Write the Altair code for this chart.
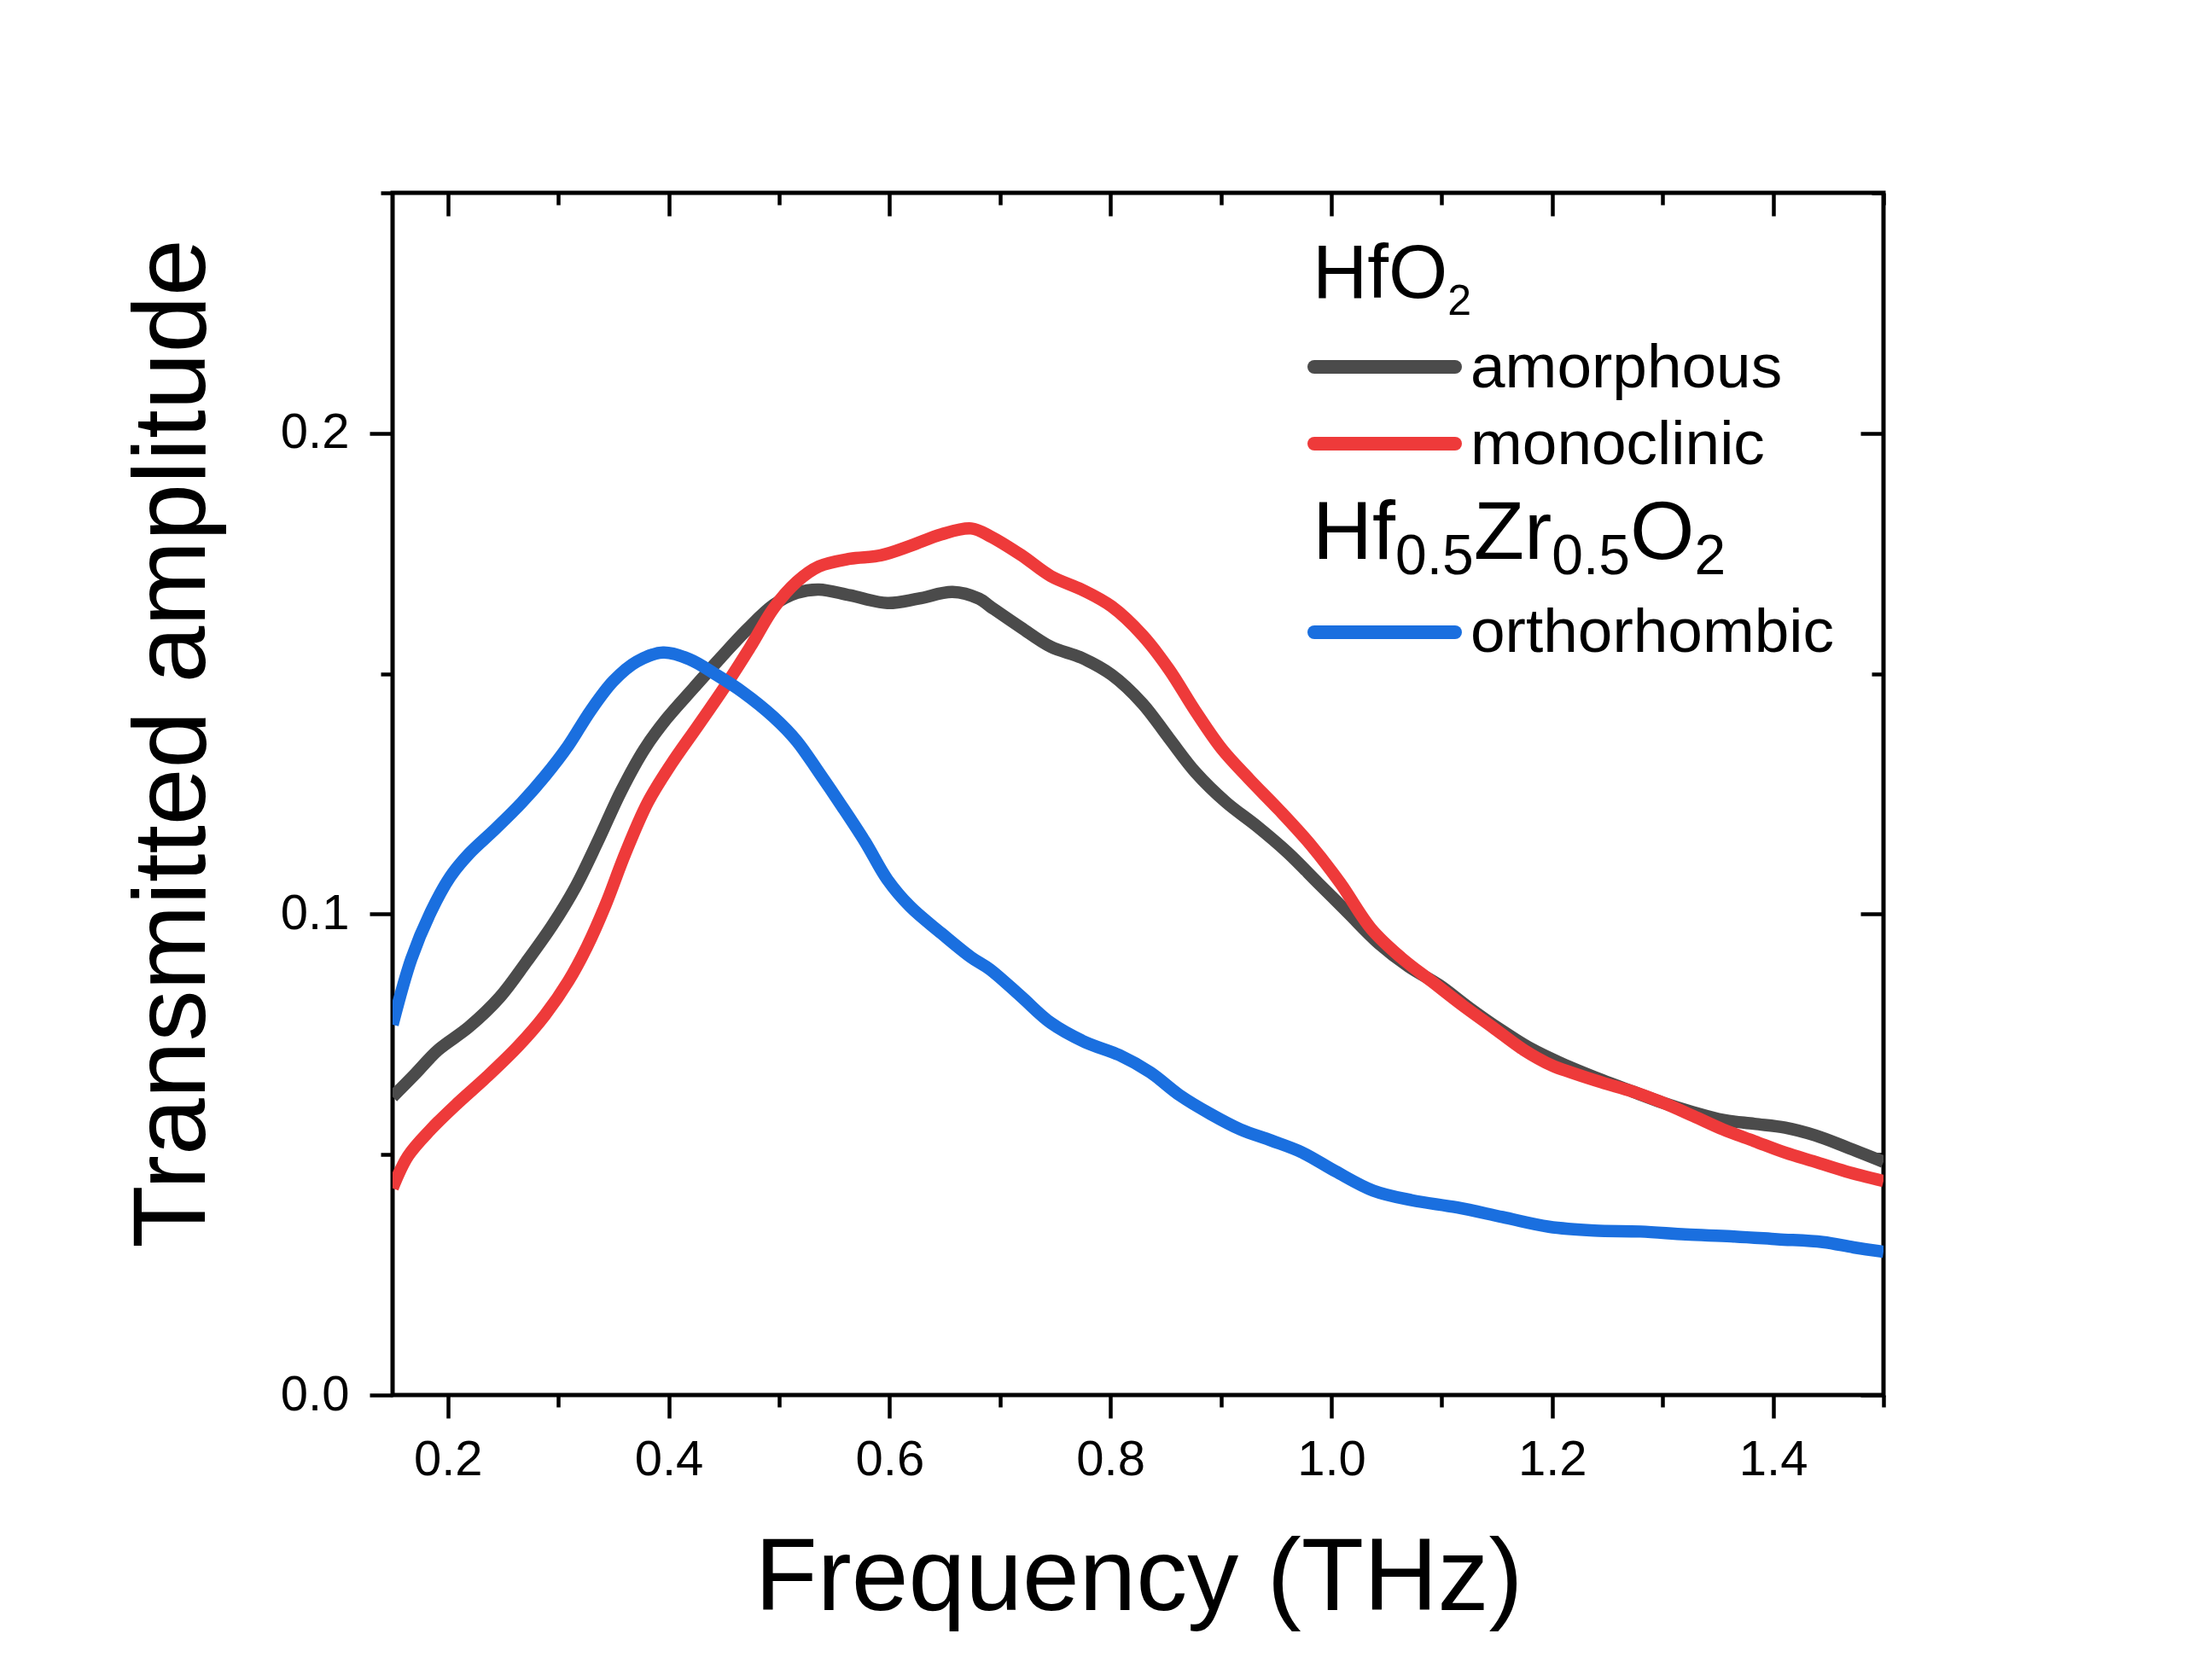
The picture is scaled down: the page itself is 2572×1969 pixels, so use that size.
import altair as alt
import pandas as pd

# ---------------- data ----------------
series_names = ["amorphous", "monoclinic", "orthorhombic"]
series_colors = ["#4b4b4b", "#ee3a3a", "#1a6fdf"]

amorphous_x = [0.150, 0.171, 0.191, 0.219, 0.247, 0.271, 0.295, 0.316, 0.336, 0.357,
               0.378, 0.398, 0.4225, 0.447, 0.471, 0.495, 0.516, 0.536, 0.564, 0.598,
               0.626, 0.657, 0.681, 0.691, 0.719, 0.746, 0.774, 0.801, 0.829, 0.853,
               0.877, 0.905, 0.932, 0.960, 0.988, 1.015, 1.043, 1.070, 1.098, 1.125,
               1.153, 1.181, 1.208, 1.245, 1.273, 1.300, 1.328, 1.355, 1.383, 1.411,
               1.438, 1.466, 1.500]
amorphous_y = [0.0620, 0.0669, 0.0717, 0.0765, 0.0827, 0.0900, 0.0978, 0.1058, 0.1152, 0.1256,
               0.1343, 0.1406, 0.1470, 0.1533, 0.1592, 0.1643, 0.1668, 0.1675, 0.1663, 0.1647,
               0.1656, 0.1670, 0.1656, 0.1640, 0.1596, 0.1556, 0.1533, 0.1498, 0.1438, 0.1366,
               0.1295, 0.1232, 0.1184, 0.1129, 0.1065, 0.1003, 0.0939, 0.0891, 0.0852, 0.0805,
               0.0760, 0.0720, 0.0690, 0.0655, 0.0631, 0.0608, 0.0588, 0.0572, 0.0564, 0.0556,
               0.0540, 0.0516, 0.0485]

monoclinic_x = [0.150, 0.164, 0.1845, 0.209, 0.236, 0.264, 0.288, 0.309, 0.326, 0.343,
                0.3605, 0.381, 0.402, 0.426, 0.450, 0.474, 0.495, 0.516, 0.536, 0.564,
                0.592, 0.619, 0.647, 0.674, 0.691, 0.719, 0.746, 0.774, 0.801, 0.829,
                0.853, 0.877, 0.901, 0.926, 0.953, 0.981, 1.008, 1.036, 1.063, 1.091,
                1.119, 1.146, 1.174, 1.200, 1.217, 1.245, 1.273, 1.300, 1.328, 1.355,
                1.383, 1.411, 1.438, 1.466, 1.500]
monoclinic_y = [0.0430, 0.0497, 0.0552, 0.0607, 0.0663, 0.0726, 0.0790, 0.0860, 0.0932, 0.1020,
                0.1125, 0.1232, 0.1311, 0.1390, 0.1470, 0.1556, 0.1636, 0.1691, 0.1723, 0.1739,
                0.1746, 0.1766, 0.1790, 0.1802, 0.1786, 0.1747, 0.1703, 0.1675, 0.1640, 0.1580,
                0.1509, 0.1422, 0.1343, 0.1280, 0.1216, 0.1145, 0.1065, 0.0970, 0.0910, 0.0860,
                0.0810, 0.0765, 0.0718, 0.0685, 0.0671, 0.0650, 0.0631, 0.0608, 0.0580, 0.0552,
                0.0528, 0.0504, 0.0485, 0.0465, 0.0445]

orthorhombic_x = [0.150, 0.167, 0.1845, 0.202, 0.219, 0.243, 0.267, 0.288, 0.309, 0.329,
                  0.350, 0.371, 0.395, 0.419, 0.443, 0.467, 0.495, 0.516, 0.536, 0.557,
                  0.578, 0.598, 0.619, 0.647, 0.674, 0.691, 0.719, 0.746, 0.777, 0.808,
                  0.836, 0.863, 0.891, 0.918, 0.946, 0.974, 1.004, 1.038, 1.073, 1.114,
                  1.155, 1.197, 1.238, 1.280, 1.321, 1.362, 1.404, 1.445, 1.473, 1.500]
orthorhombic_y = [0.0770, 0.0907, 0.1004, 0.1077, 0.1125, 0.1177, 0.1232, 0.1287, 0.1350, 0.1422,
                  0.1485, 0.1525, 0.1544, 0.1530, 0.1498, 0.1462, 0.1410, 0.1360, 0.1295, 0.1224,
                  0.1150, 0.1072, 0.1015, 0.0960, 0.0910, 0.0885, 0.0829, 0.0774, 0.0734, 0.0707,
                  0.0671, 0.0623, 0.0584, 0.0552, 0.0529, 0.0504, 0.0465, 0.0425, 0.0405, 0.0390,
                  0.0370, 0.0350, 0.0342, 0.0340, 0.0334, 0.0330, 0.0324, 0.0318, 0.0307, 0.0298]

x_tick_values = [0.2, 0.3, 0.4, 0.5, 0.6, 0.7, 0.8, 0.9, 1.0, 1.1, 1.2, 1.3, 1.4, 1.5]
y_tick_values = [0.0, 0.05, 0.1, 0.15, 0.2, 0.25]
x_domain = [0.15, 1.5]
y_domain = [0.0, 0.25]

x_title = "Frequency (THz)"
y_title = "Transmitted amplitude"

# legend headers: (text, is_subscript)
header_hfo2 = [("HfO", False), ("2", True)]
header_hzo = [("Hf", False), ("0.5", True), ("Zr", False), ("0.5", True), ("O", False), ("2", True)]

# ---------------- styling / layout ----------------
FONT = "Liberation Sans"
W, H = 1747, 1409
LINE_W = 14.5

x_scale = alt.Scale(domain=x_domain, nice=False, zero=False)
y_scale = alt.Scale(domain=y_domain, nice=False, zero=False)

major_x = "round(datum.value*10)%2==0"
major_y = "round(datum.value*20)%2==0"

common_axis = dict(grid=False, domain=False, tickColor="black", tickWidth=4.5,
                   labelFont=FONT, labelFontSize=58, labelColor="black",
                   titleFont=FONT, titleFontSize=120, titleFontWeight="normal",
                   titleColor="black", labelOverlap=False, labelFlush=False)

x_axis_bottom = alt.Axis(
    orient="bottom", values=x_tick_values,
    tickSize={"expr": f"{major_x} ? 27 : 14"},
    labelExpr=f"{major_x} ? format(datum.value, '.1f') : ''",
    labelPadding=20, labelBaseline="top",
    title=x_title, titleX=874, titleY=251, titleBaseline="alphabetic", titleAlign="center",
    **common_axis)
y_axis_left = alt.Axis(
    orient="left", values=y_tick_values,
    tickSize={"expr": f"{major_y} ? 27 : 14"},
    labelExpr=f"{major_y} ? format(datum.value, '.1f') : ''",
    labelPadding=24,
    title=y_title, titleX=-221, titleY=645, titleAngle=270,
    titleBaseline="alphabetic", titleAlign="center",
    **common_axis)
x_axis_top = alt.Axis(
    orient="top", values=x_tick_values, labels=False, title=None,
    tickSize={"expr": f"{major_x} ? -27 : -14"}, grid=False, domain=False,
    tickColor="black", tickWidth=4.5)
y_axis_right = alt.Axis(
    orient="right", values=y_tick_values, labels=False, title=None,
    tickSize={"expr": f"{major_y} ? -27 : -14"}, grid=False, domain=False,
    tickColor="black", tickWidth=4.5)

def series_df(xs, ys):
    return pd.DataFrame({"x": xs, "y": ys})

dfs = [series_df(amorphous_x, amorphous_y),
       series_df(monoclinic_x, monoclinic_y),
       series_df(orthorhombic_x, orthorhombic_y)]

layers = []
for i, (df, col) in enumerate(zip(dfs, series_colors)):
    layers.append(
        alt.Chart(df).mark_line(color=col, strokeWidth=LINE_W, interpolate="catmull-rom",
                                clip=True, strokeJoin="round").encode(
            x=alt.X("x:Q", scale=x_scale, axis=x_axis_bottom if i == 0 else None),
            y=alt.Y("y:Q", scale=y_scale, axis=y_axis_left if i == 0 else None),
        )
    )

# mirror axes (top / right, inward ticks)
layers.append(
    alt.Chart(dfs[0]).mark_line(opacity=0).encode(
        x=alt.X("x:Q", scale=x_scale, axis=x_axis_top),
        y=alt.Y("y:Q", scale=y_scale, axis=y_axis_right),
    )
)

# ---------------- legend ----------------
ADV = {"H": 0.722, "f": 0.278, "O": 0.778, "Z": 0.611, "r": 0.333,
       "0": 0.556, ".": 0.278, "5": 0.556, "2": 0.556}

def text_layer(s, x, y, size):
    return alt.Chart(alt.Data(values=[{"t": s}])).mark_text(
        align="left", baseline="alphabetic", font=FONT, fontSize=size, color="black"
    ).encode(x=alt.value(x), y=alt.value(y), text="t:N")

def header(parts, x0, base, main_size, sub_size, sub_drop):
    x = x0
    out = []
    for s, sub in parts:
        size = sub_size if sub else main_size
        out.append(text_layer(s, x, base + (sub_drop if sub else 0), size))
        x += sum(ADV[c] for c in s) * size
    return out

LEG_X0 = 1078
layers += header(header_hfo2, LEG_X0, 123, 89, 50, 20)
layers += header(header_hzo, LEG_X0, 429, 97, 66, 18)

legend_line_y = [204, 294, 515]
legend_text_y = [228, 318, 538]
for name, col, ly, ty in zip(series_names, series_colors, legend_line_y, legend_text_y):
    layers.append(
        alt.Chart(alt.Data(values=[{"s": name}])).mark_rule(
            color=col, strokeWidth=16, strokeCap="round"
        ).encode(x=alt.value(1080), x2=alt.value(1245), y=alt.value(ly))
    )
    layers.append(text_layer(name, 1263, ty, 73))

chart = alt.layer(*layers).resolve_axis(x="independent", y="independent").properties(
    width=W, height=H,
    padding={"left": 452, "top": 218, "right": 357, "bottom": 326},
    autosize=alt.AutoSizeParams(type="none"),
    background="white",
).configure_view(stroke="black", strokeWidth=5)

chart.save("out.html", embed_options={"renderer": "svg", "actions": False})
